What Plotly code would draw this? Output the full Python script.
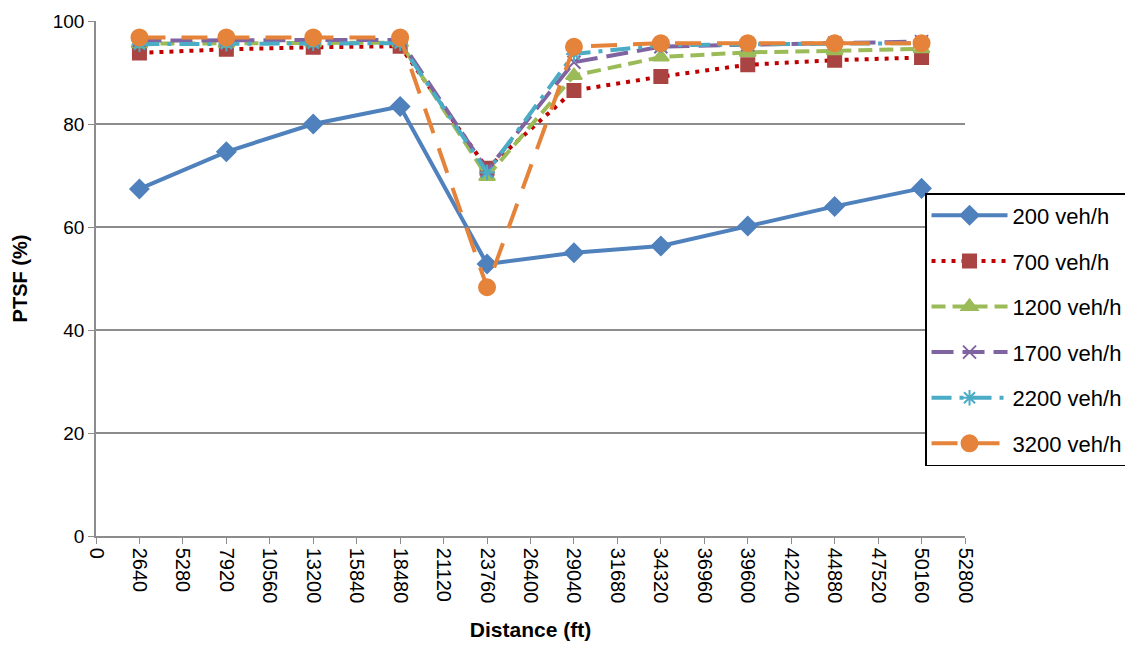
import plotly.graph_objects as go

distance = [2640, 7920, 13200, 18480, 23760, 29040, 34320, 39600, 44880, 50160]
s200 = [67.4, 74.6, 80.0, 83.4, 52.8, 55.0, 56.3, 60.2, 64.0, 67.5]
s700 = [93.8, 94.5, 94.9, 95.1, 71.4, 86.5, 89.2, 91.5, 92.4, 92.9]
s1200 = [95.6, 95.7, 95.8, 95.8, 69.8, 89.4, 93.0, 93.9, 94.2, 94.6]
s1700 = [96.2, 96.3, 96.3, 96.3, 71.0, 92.0, 95.0, 95.4, 95.7, 96.0]
s2200 = [95.5, 95.6, 95.7, 95.7, 70.6, 93.6, 95.3, 95.5, 95.6, 95.7]
s3200 = [96.8, 96.8, 96.8, 96.8, 48.3, 95.0, 95.7, 95.7, 95.7, 95.7]

series = [
    ("200 veh/h", s200, "#4F81BD", "solid", "diamond", 14),
    ("700 veh/h", s700, "#C00000", "4px,6px", "square", 13),
    ("1200 veh/h", s1200, "#9BBB59", "14px,7px", "triangle-up", 14),
    ("1700 veh/h", s1700, "#8064A2", "22px,9px", "x-thin-open", 13),
    ("2200 veh/h", s2200, "#4BACC6", "20px,8px,4px,8px", "asterisk-open", 13),
    ("3200 veh/h", s3200, "#E5833A", "26px,16px", "circle", 16),
]
marker_colors = {"700 veh/h": "#A94442"}

x_ticks = list(range(0, 52801, 2640))

fig = go.Figure()
for name, ys, color, dash, symbol, size in series:
    mc = marker_colors.get(name, color)
    fig.add_trace(go.Scatter(
        x=distance, y=ys, name=name, mode="lines+markers",
        legendgroup=name,
        line=dict(color=color, width=4, dash=dash),
        marker=dict(symbol=symbol, size=size, color=mc,
                    line=dict(color=mc, width=2)),
    ))

font_family = "Liberation Sans, Arial, sans-serif"
fig.update_layout(
    width=1133, height=648,
    margin=dict(l=88, r=176, t=13, b=120, autoexpand=False),
    plot_bgcolor="white", paper_bgcolor="white",
    font=dict(family=font_family, size=19, color="black"),
    legend=dict(x=0.954, y=0.666, xanchor="left", yanchor="top",
                bordercolor="black", borderwidth=1.5, bgcolor="white",
                font=dict(size=22), tracegroupgap=14, itemwidth=76),
    xaxis=dict(range=[0, 52800], tickmode="array", tickvals=x_ticks,
               ticktext=[str(v) for v in x_ticks], tickangle=90,
               tickfont=dict(size=20), automargin=False,
               showgrid=False, showline=True, linecolor="#8C8C8C",
               linewidth=1.5, ticks="outside", tickcolor="#8C8C8C",
               ticklen=6, zeroline=False,
               title=dict(text="<b>Distance (ft)</b>", font=dict(size=21), standoff=20)),
    yaxis=dict(range=[0, 100], tickvals=[0, 20, 40, 60, 80, 100],
               tickfont=dict(size=19), automargin=False,
               showgrid=True, gridcolor="#8C8C8C", gridwidth=1.5,
               showline=True, linecolor="#8C8C8C", linewidth=1.5,
               ticks="outside", tickcolor="#8C8C8C", ticklen=6,
               zeroline=False,
               title=dict(text="<b>PTSF (%)</b>", font=dict(size=20), standoff=20)),
)

fig.write_html("out.html")
